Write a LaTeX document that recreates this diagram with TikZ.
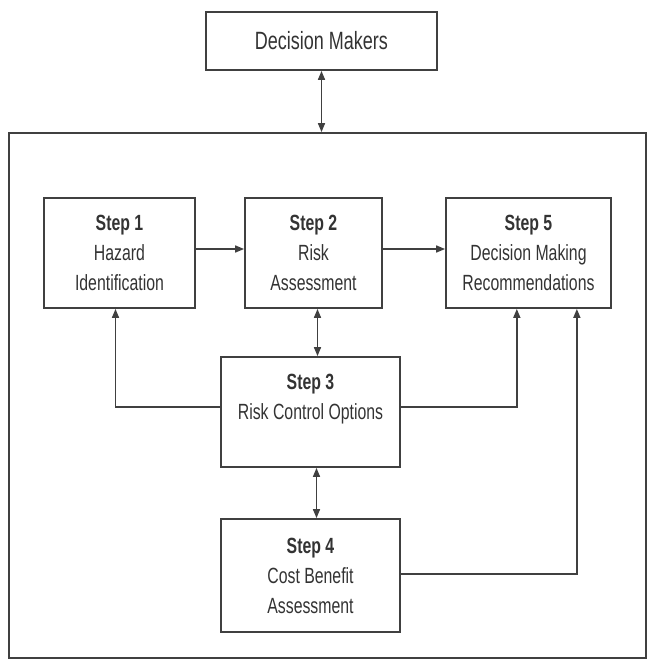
\documentclass[tikz,border=0pt]{standalone}
\usepackage{fontspec}
\setmainfont{Liberation Sans}[FakeStretch=0.72]
\usetikzlibrary{calc,arrows.meta}

\begin{document}
\begin{tikzpicture}[x=0.5pt, y=-0.5pt,
        stepbox/.style={draw=black!75, line width=0.9pt, inner sep=0pt, align=center,
            text=black!80, font=\fontsize{11}{15}\selectfont},
        link/.style={draw=black!75, line width=0.8pt, -{Triangle[length=4.5pt,width=3.5pt]}},
        twoway/.style={link, {Triangle[length=4.5pt,width=3.5pt]}-{Triangle[length=4.5pt,width=3.5pt]}}]
        \useasboundingbox (0,0) rectangle (648,659);
        \node[stepbox, minimum width=318.5pt, minimum height=262.5pt] (frame) at (327.5,395.5) {};
        \node[stepbox, minimum width=115.5pt, minimum height=29pt,
            font=\fontsize{12.5}{15}\selectfont] (dm) at (321.5,41) {Decision Makers};
        \node[stepbox, minimum width=75.5pt, minimum height=55pt] (s1) at (119.5,253)
            {\textbf{Step 1}\\Hazard\\Identification};
        \node[stepbox, minimum width=68.5pt, minimum height=55pt] (s2) at (313.5,253)
            {\textbf{Step 2}\\Risk\\Assessment};
        \node[stepbox, minimum width=82.5pt, minimum height=55pt] (s5) at (528.5,253)
            {\textbf{Step 5}\\Decision Making\\Recommendations};
        \node[stepbox, minimum width=89.5pt, minimum height=55pt] (s3) at (310.5,412)
            {\textbf{Step 3}\\Risk Control Options\\~};
        \node[stepbox, minimum width=89.5pt, minimum height=56.5pt] (s4) at (310.5,575.5)
            {\textbf{Step 4}\\Cost Benefit\\Assessment};
        \draw[twoway] (dm.south) -- (dm.south |- frame.north);
        \foreach \a/\b in {s1/s2, s2/s5}{
            \draw[link] ([yshift=2pt]\a.east) -- ([yshift=2pt]\b.west);
        }
        \draw[twoway] ([xshift=2pt]s2.south) -- ([xshift=2pt]s2.south |- s3.north);
        \draw[twoway] ([xshift=3pt]s3.south) -- ([xshift=3pt]s4.north);
        \draw[link] ([yshift=2.5pt]s3.west) -| ([xshift=-2pt]s1.south);
        \draw[link] ([yshift=2.5pt]s3.east) -| ($(s5.south west)!0.43!(s5.south east)$);
        \draw[link] ([yshift=0.75pt]s4.east) -| ($(s5.south west)!0.79!(s5.south east)$);
    \end{tikzpicture}
\end{document}
